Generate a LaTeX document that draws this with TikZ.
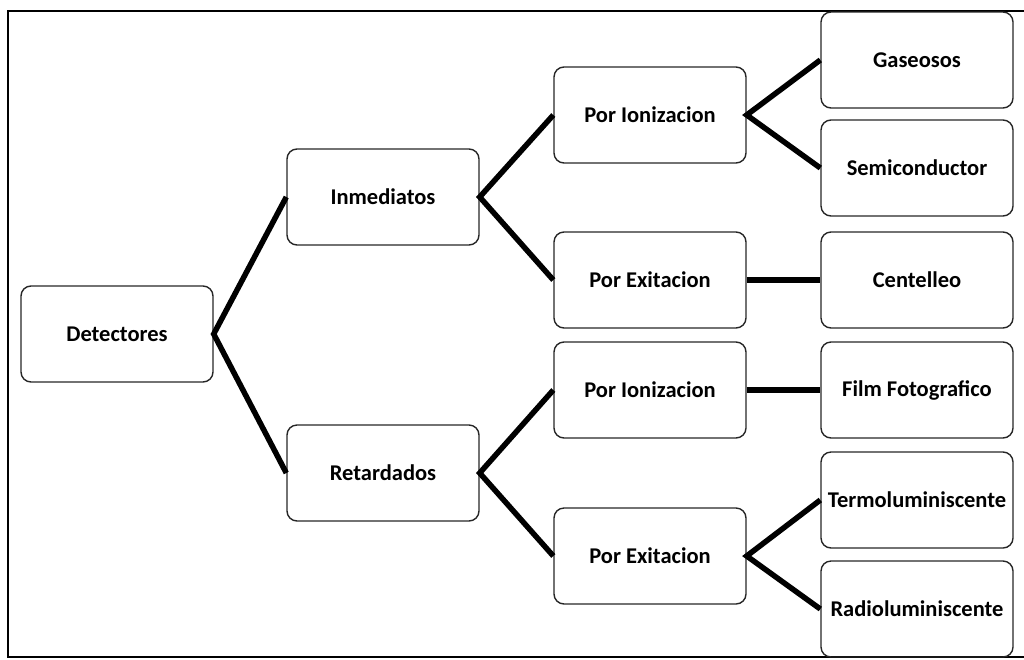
\documentclass[tikz,border=0pt]{standalone}
\usepackage{fontspec}
\setmainfont{Carlito}
\tikzset{caja/.style={draw=black!85, line width=1.4pt, rounded corners=10pt, minimum width=192pt, minimum height=96pt, inner sep=1pt, font=\fontsize{22.5}{27}\selectfont\bfseries},
         rama/.style={line width=5.5pt, black, line join=miter}}
\begin{document}
\begin{tikzpicture}[x=1pt, y=-1pt]
\useasboundingbox (0,0) rectangle (1024,659);
\draw[line width=2.6pt] (1024,11) -- (8,11) -- (8,657) -- (1024,657);
\node[caja] (det) at (117,334) {Detectores};
\node[caja] (inm) at (383,197) {Inmediatos};
\node[caja] (ret) at (383,473) {Retardados};
\node[caja] (ioni1) at (650,115) {Por Ionizacion};
\node[caja] (exit1) at (650,280) {Por Exitacion};
\node[caja] (ioni2) at (650,390) {Por Ionizacion};
\node[caja] (exit2) at (650,556) {Por Exitacion};
\node[caja] (gas) at (917,60) {Gaseosos};
\node[caja] (semi) at (917,168) {Semiconductor};
\node[caja] (cent) at (917,280) {Centelleo};
\node[caja] (film) at (917,390) {Film Fotografico};
\node[caja] (termo) at (917,500) {Termoluminiscente};
\node[caja] (radio) at (917,609) {Radioluminiscente};
\draw[rama] (inm.west) -- (det.east) -- (ret.west);
\draw[rama] (ioni1.west) -- (inm.east) -- (exit1.west);
\draw[rama] (ioni2.west) -- (ret.east) -- (exit2.west);
\draw[rama] (gas.west) -- (ioni1.east) -- (semi.west);
\draw[rama] (exit1.east) -- (cent.west);
\draw[rama] (ioni2.east) -- (film.west);
\draw[rama] (termo.west) -- (exit2.east) -- (radio.west);
\end{tikzpicture}
\end{document}
